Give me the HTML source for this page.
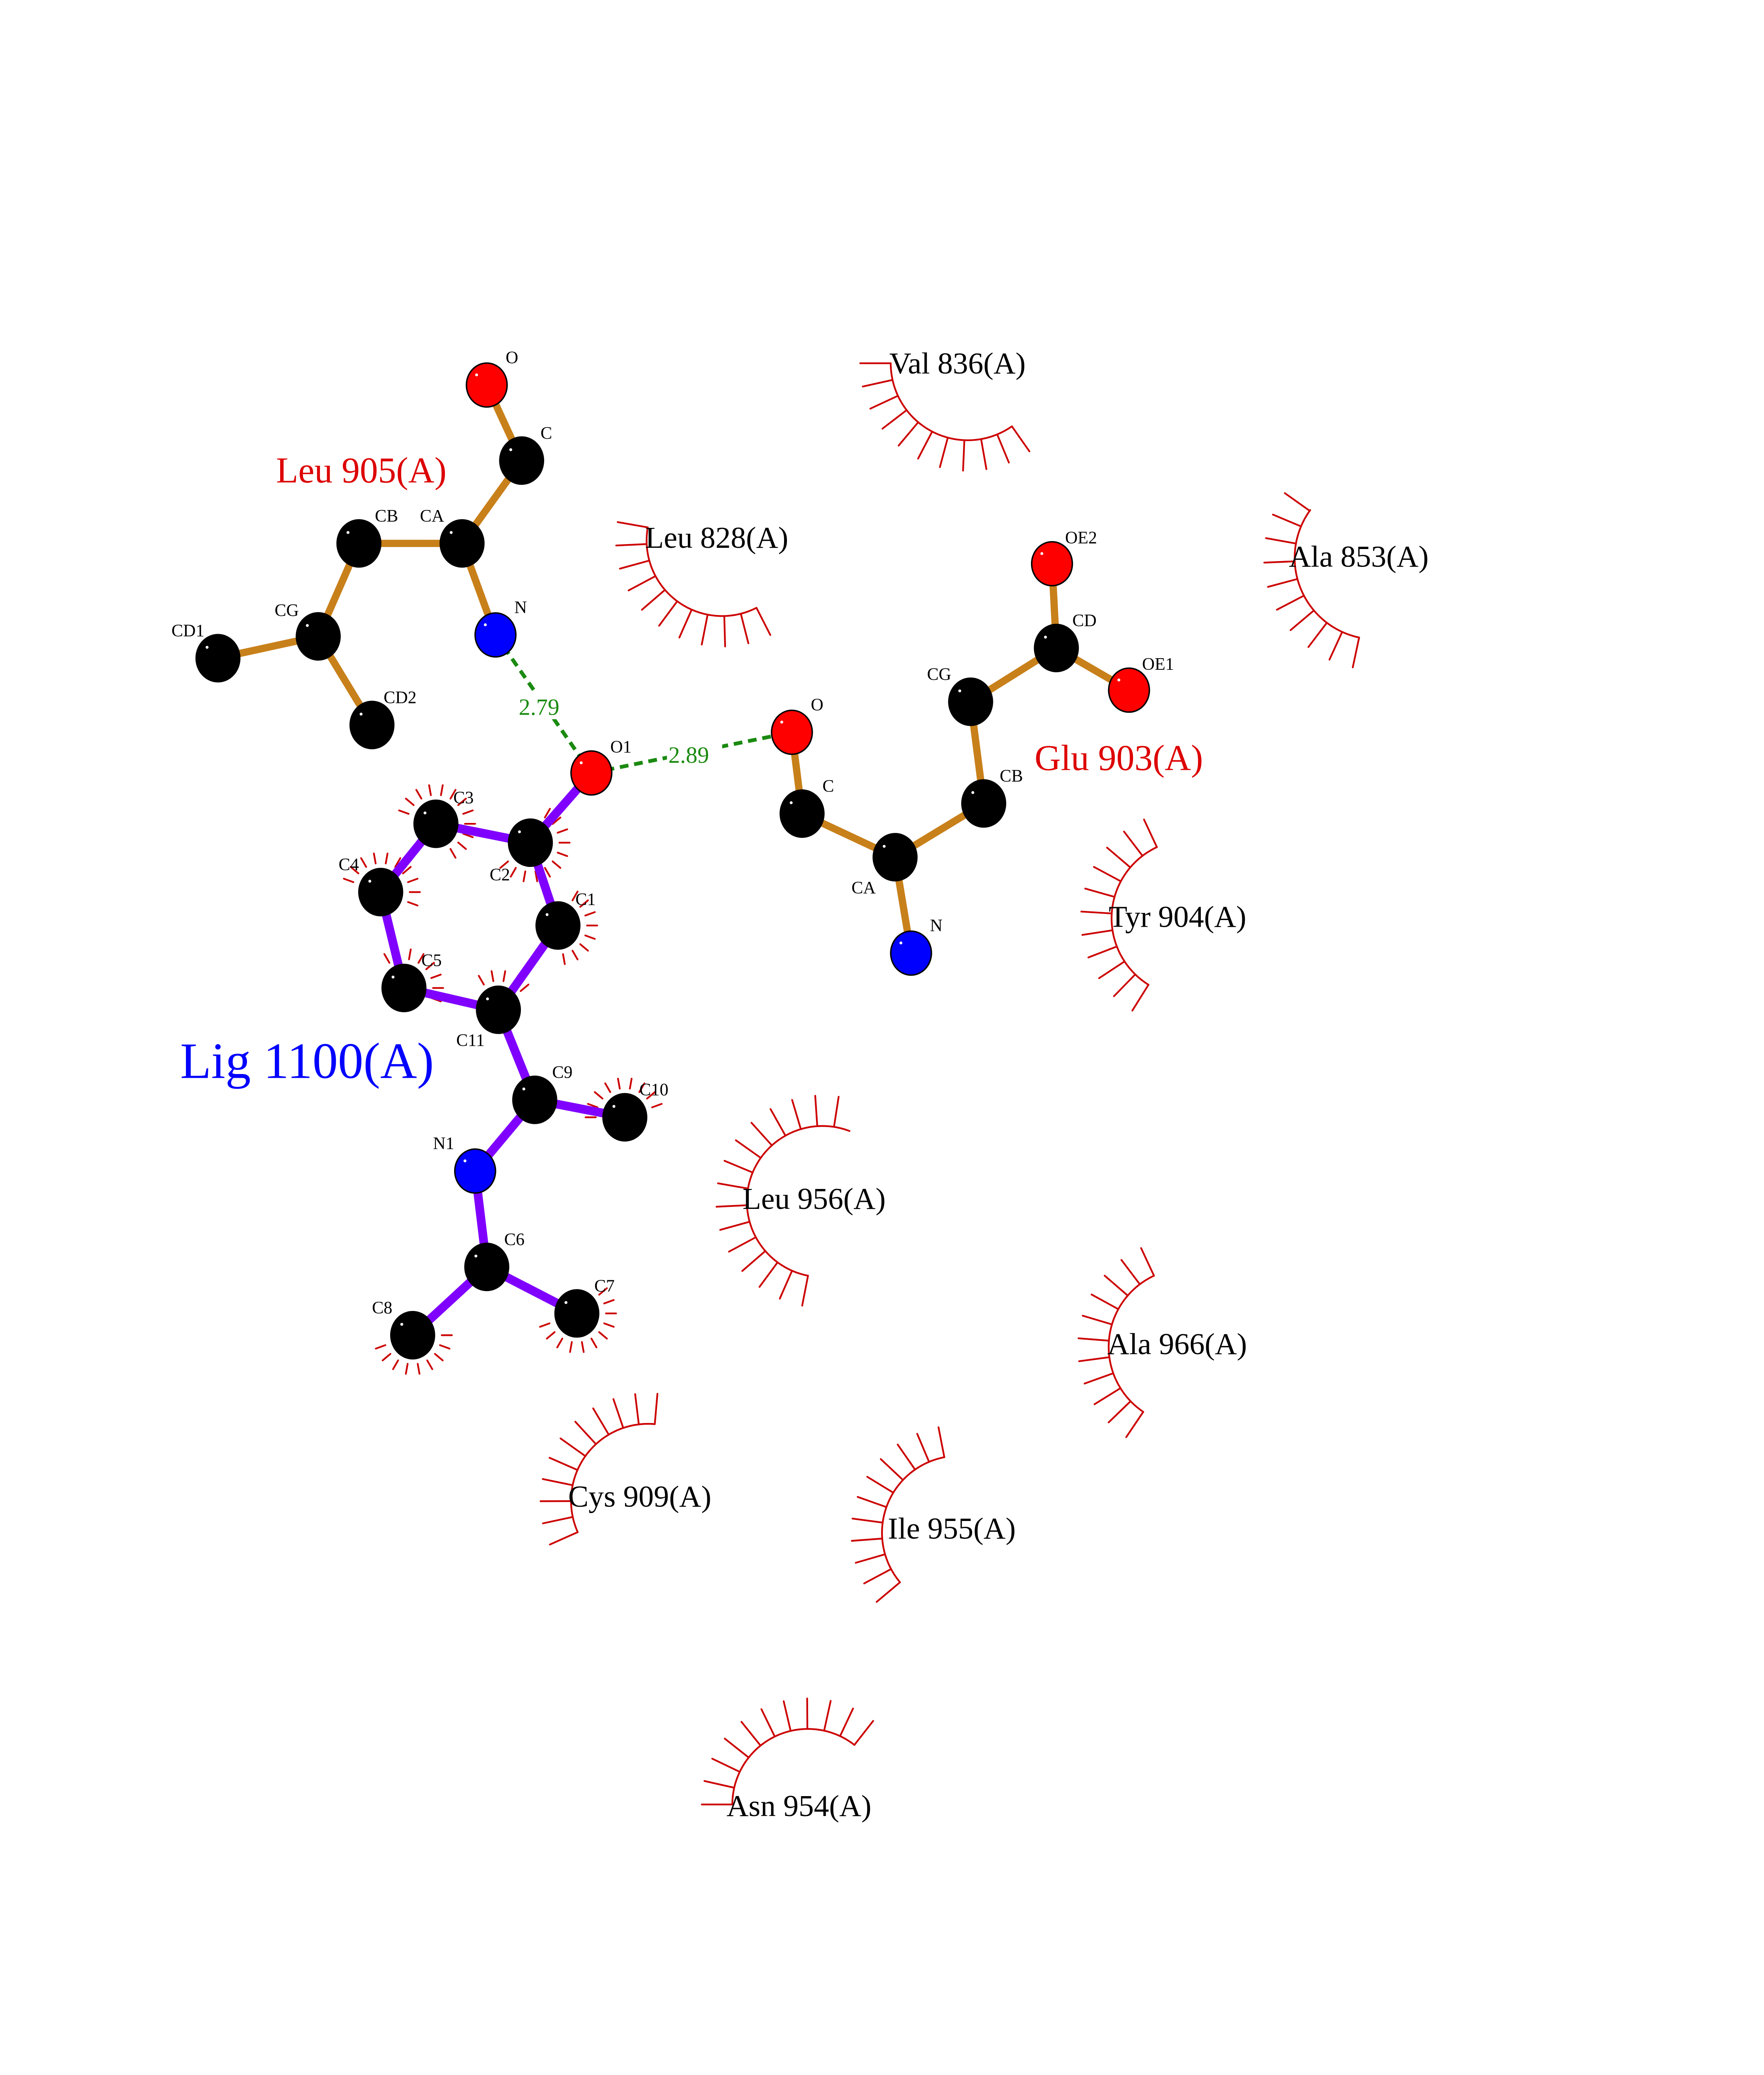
<!DOCTYPE html>
<html><head><meta charset="utf-8">
<style>html,body{margin:0;padding:0;background:#fff;width:4250px;height:5500px;overflow:hidden}svg{display:block;position:absolute;left:0;top:0}</style>
</head><body>
<svg id="s" xmlns="http://www.w3.org/2000/svg" width="4250" height="5500" viewBox="0 0 1214 1571" font-family="'Liberation Serif', serif">
<rect width="1214" height="1571" fill="#fff"/>
<g id="hyd" stroke="#cc0000" stroke-width="1.2" fill="none" stroke-linecap="round"></g>
<g stroke="#1a8a10" stroke-width="2.6" stroke-dasharray="6,4" fill="none">
<line x1="341" y1="437" x2="407" y2="532"/>
<line x1="407" y1="532" x2="545" y2="504"/>
</g>
<rect x="356" y="477" width="38" height="18" fill="#fff"/>
<rect x="459" y="510" width="38" height="18" fill="#fff"/>
<g fill="#1a8a10" font-size="16"><text x="357" y="492">2.79</text><text x="460" y="525">2.89</text></g>
<g stroke="#c8801a" stroke-width="5" stroke-linecap="round">
<line x1="335" y1="265" x2="359" y2="317"/><line x1="359" y1="317" x2="318" y2="374"/>
<line x1="318" y1="374" x2="247" y2="374"/><line x1="247" y1="374" x2="219" y2="438"/>
<line x1="219" y1="438" x2="150" y2="453"/><line x1="219" y1="438" x2="256" y2="499"/>
<line x1="318" y1="374" x2="341" y2="437"/>
<line x1="545" y1="504" x2="552" y2="560"/><line x1="552" y1="560" x2="616" y2="590"/>
<line x1="616" y1="590" x2="627" y2="656"/><line x1="616" y1="590" x2="677" y2="553"/>
<line x1="677" y1="553" x2="668" y2="483"/><line x1="668" y1="483" x2="727" y2="446"/>
<line x1="727" y1="446" x2="724" y2="388"/><line x1="727" y1="446" x2="777" y2="475"/>
</g>
<g stroke="#8000ff" stroke-width="6" stroke-linecap="round">
<line x1="407" y1="532" x2="365" y2="580"/><line x1="365" y1="580" x2="300" y2="567"/>
<line x1="300" y1="567" x2="262" y2="614"/><line x1="262" y1="614" x2="278" y2="680"/>
<line x1="278" y1="680" x2="343" y2="695"/><line x1="343" y1="695" x2="384" y2="637"/>
<line x1="384" y1="637" x2="365" y2="580"/><line x1="343" y1="695" x2="368" y2="757"/>
<line x1="368" y1="757" x2="430" y2="769"/><line x1="368" y1="757" x2="327" y2="806"/>
<line x1="327" y1="806" x2="335" y2="872"/><line x1="335" y1="872" x2="397" y2="904"/>
<line x1="335" y1="872" x2="284" y2="919"/>
</g>
<g id="atoms" stroke="#000" stroke-width="1"></g>
<g font-size="12" fill="#000">
<text x="348" y="250">O</text><text x="372" y="302">C</text><text x="289" y="359">CA</text><text x="258" y="359">CB</text>
<text x="189" y="424">CG</text><text x="118" y="438">CD1</text><text x="264" y="484">CD2</text><text x="354" y="422">N</text>
<text x="420" y="518">O1</text><text x="312" y="553">C3</text><text x="233" y="599">C4</text><text x="337" y="606">C2</text>
<text x="396" y="623">C1</text><text x="290" y="665">C5</text><text x="314" y="720">C11</text><text x="380" y="742">C9</text>
<text x="440" y="754">C10</text><text x="298" y="791">N1</text><text x="347" y="857">C6</text><text x="409" y="889">C7</text>
<text x="256" y="904">C8</text>
<text x="558" y="489">O</text><text x="566" y="545">C</text><text x="586" y="615">CA</text><text x="640" y="641">N</text>
<text x="688" y="538">CB</text><text x="638" y="468">CG</text><text x="738" y="431">CD</text><text x="733" y="374">OE2</text>
<text x="786" y="461">OE1</text>
</g>
<g font-size="21" fill="#000">
<text x="612" y="257">Val 836(A)</text><text x="444" y="377">Leu 828(A)</text><text x="887" y="390">Ala 853(A)</text>
<text x="763" y="638">Tyr 904(A)</text><text x="511" y="832">Leu 956(A)</text><text x="762" y="932">Ala 966(A)</text>
<text x="391" y="1037">Cys 909(A)</text><text x="611" y="1059">Ile 955(A)</text><text x="500" y="1250">Asn 954(A)</text>
</g>
<g font-size="25" fill="#dd0000"><text x="190" y="332">Leu 905(A)</text><text x="712" y="530">Glu 903(A)</text></g>
<text x="124" y="742" font-size="35" fill="#0000ff">Lig 1100(A)</text>
<text x="58" y="1470" font-size="14">.</text>
</svg>
<script>
var NS="http://www.w3.org/2000/svg";
function el(p,t,a){var e=document.createElementNS(NS,t);for(var k in a)e.setAttribute(k,a[k]);p.appendChild(e);return e;}
var h=document.getElementById("hyd");
function arc(cx,cy,r,a0,a1,sp,len,step){
 var d="";var n=Math.max(2,Math.round((a1-a0)/2));
 for(var i=0;i<=n;i++){var a=(a0+(a1-a0)*i/n)*Math.PI/180;d+=(i?"L":"M")+(cx+r*Math.cos(a)).toFixed(2)+","+(cy+r*Math.sin(a)).toFixed(2);}
 if(sp)el(h,"path",{d:d});
 for(var t=a0;t<=a1+0.01;t+=step){var a=t*Math.PI/180;var c=Math.cos(a),s=Math.sin(a);
  el(h,"line",{x1:(cx+r*c).toFixed(2),y1:(cy+r*s).toFixed(2),x2:(cx+(r+len)*c).toFixed(2),y2:(cy+(r+len)*s).toFixed(2)});}
}
arc(666,250,53,55,180,1,21,12.5);
arc(497,372,52,63,190,1,21,12.7);
arc(947,384,56,102,216,1,21,12.6);
arc(819,632,54,122,245,1,21,12.3);
arc(566,827,52,101,291,1,21,12.7);
arc(817,927,54,124,245,1,21,12.1);
arc(446,1033,53,156,275,1,21,11.9);
arc(660,1055,53,140,259,1,21,11.9);
arc(556,1242,52,180,308,1,21,12.8);
function sm(cx,cy,a0,a1){arc(cx,cy,20,a0,a1,0,7,20);}
sm(300,567,200,420);sm(365,580,-60,140);sm(384,637,-60,80);sm(262,614,200,380);sm(278,680,240,380);
sm(343,695,240,330);sm(430,769,180,340);sm(397,904,-40,160);sm(284,919,0,160);
var at=document.getElementById("atoms");
var A=[[335,265,"r"],[359,317,"k"],[318,374,"k"],[247,374,"k"],[219,438,"k"],[150,453,"k"],[256,499,"k"],[341,437,"b"],
[407,532,"r"],[365,580,"k"],[300,567,"k"],[262,614,"k"],[278,680,"k"],[343,695,"k"],[384,637,"k"],[368,757,"k"],[430,769,"k"],
[327,806,"b"],[335,872,"k"],[397,904,"k"],[284,919,"k"],
[545,504,"r"],[552,560,"k"],[616,590,"k"],[627,656,"b"],[677,553,"k"],[668,483,"k"],[727,446,"k"],[724,388,"r"],[777,475,"r"]];
var col={r:"#ff0000",k:"#000000",b:"#0000ff"};
A.forEach(function(p){var r=p[2]=="k"?15:14;el(at,"ellipse",{cx:p[0],cy:p[1],rx:r,ry:r*1.08,fill:col[p[2]]});
 el(at,"circle",{cx:p[0]-r*0.5,cy:p[1]-r*0.5,r:1,fill:"#fff",stroke:"none"});});
</script>
</body></html>
